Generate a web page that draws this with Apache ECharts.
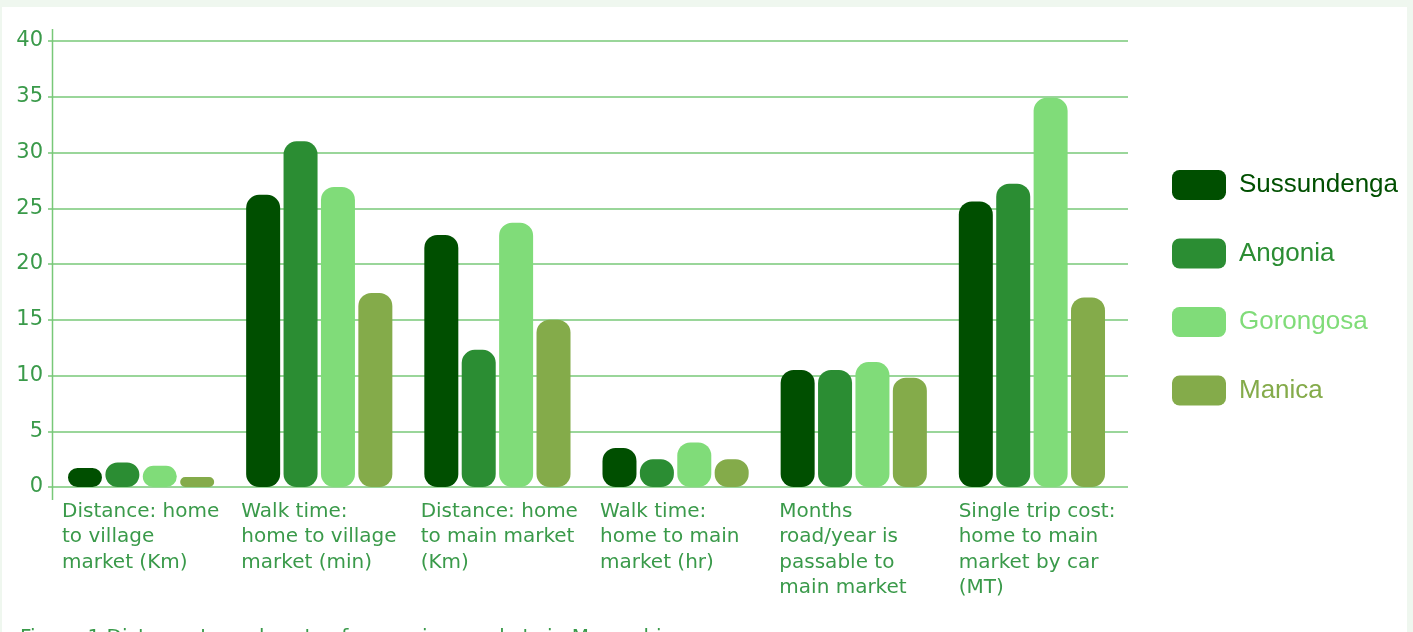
<!DOCTYPE html>
<html>
<head>
<meta charset="utf-8">
<script src="https://cdn.jsdelivr.net/npm/echarts@6/dist/echarts.min.js"></script>
<style>
  html, body { margin: 0; padding: 0; background: #eff7ef; width: 1413px; height: 632px; overflow: hidden; }
  #chart { position: absolute; left: 2px; top: 7px; width: 1405px; height: 625px; background: #ffffff; }
</style>
</head>
<body>
<div id="chart"></div>
<script>
const categories = [
  "Distance: home\nto village\nmarket (Km)",
  "Walk time:\nhome to village\nmarket (min)",
  "Distance: home\nto main market\n(Km)",
  "Walk time:\nhome to main\nmarket (hr)",
  "Months\nroad/year is\npassable to\nmain market",
  "Single trip cost:\nhome to main\nmarket by car\n(MT)"
];
const seriesNames = ["Sussundenga", "Angonia", "Gorongosa", "Manica"];
const sussundenga = [1.7, 26.2, 22.6, 3.5, 10.5, 25.6];
const angonia     = [2.2, 31.0, 12.3, 2.5, 10.5, 27.2];
const gorongosa   = [1.9, 26.9, 23.7, 4.0, 11.2, 34.9];
const manica      = [0.9, 17.4, 15.0, 2.5, 9.8, 17.0];
const yTicks = [0, 5, 10, 15, 20, 25, 30, 35, 40];
const caption = "Figure 1 Distance to and costs of accessing markets in Mozambique";

const colors = ["#004f00", "#2b8d33", "#80dc79", "#84ab4a"];
const values = [sussundenga, angonia, gorongosa, manica];
const textGreen = "#3a9a4a";
const gridGreen = "#78c878";
const labelFont = "'DejaVu Sans', sans-serif";

const chart = echarts.init(document.getElementById('chart'), null, { renderer: 'canvas' });

const option = {
  animation: false,
  grid: [
    { left: 50, right: 286, top: 34, bottom: 145, containLabel: false },
    { left: 50, right: 279, top: 34, bottom: 145, containLabel: false }
  ],
  legend: {
    orient: 'vertical',
    left: 1165,
    top: 158,
    itemWidth: 54,
    itemHeight: 30,
    itemGap: 38.5,
    icon: 'roundRect',
    selectedMode: false,
    textStyle: { fontFamily: "'Liberation Sans', Arial, sans-serif", fontSize: 26, padding: [0, 0, 0, 8] },
    data: seriesNames.map((n, i) => ({ name: n, textStyle: { color: colors[i] } }))
  },
  xAxis: [
    {
      type: 'category',
      gridIndex: 0,
      data: categories,
      axisLine: { show: false },
      axisTick: { show: false },
      axisLabel: { show: false }
    },
    {
      type: 'category',
      gridIndex: 1,
      data: categories.concat(['']),
      boundaryGap: false,
      position: 'bottom',
      axisLine: { show: false },
      axisTick: { show: false },
      axisLabel: {
        interval: 0,
        align: 'left',
        verticalAlign: 'top',
        margin: 12,
        padding: [0, 0, 0, 10],
        color: textGreen,
        fontFamily: labelFont,
        fontSize: 20,
        lineHeight: 25.5
      }
    }
  ],
  yAxis: [
    {
      type: 'value',
      gridIndex: 0,
      min: 0,
      max: 40,
      interval: 5,
      axisLine: { show: false },
      axisTick: { show: false },
      axisLabel: { show: false },
      splitLine: { show: false }
    },
    {
      type: 'value',
      gridIndex: 1,
      min: 0,
      max: 40,
      interval: 5,
      axisLine: { show: false },
      axisTick: { show: true, length: 4, lineStyle: { color: gridGreen, width: 1.5 } },
      axisLabel: {
        color: textGreen,
        fontFamily: labelFont,
        fontSize: 21,
        margin: 9,
        padding: [0, 0, 19, 0],
        formatter: v => yTicks.includes(v) ? String(v) : ''
      },
      splitLine: { show: true, lineStyle: { color: gridGreen, width: 1.5 } }
    }
  ],
  graphic: [
    {
      type: 'line',
      shape: { x1: 50.5, y1: 22, x2: 50.5, y2: 493 },
      style: { stroke: gridGreen, lineWidth: 1.5 },
      z: 10
    },
    {
      type: 'text',
      left: 18,
      top: 621,
      style: { text: caption, fill: textGreen, font: "20px 'DejaVu Sans', sans-serif" }
    }
  ],
  series: seriesNames.map((n, i) => ({
    name: n,
    type: 'bar',
    xAxisIndex: 0,
    yAxisIndex: 0,
    data: values[i],
    barWidth: 34,
    barGap: '10%',
    z: 3,
    itemStyle: { color: colors[i], borderRadius: 13 }
  }))
};

chart.setOption(option);
</script>
</body>
</html>
